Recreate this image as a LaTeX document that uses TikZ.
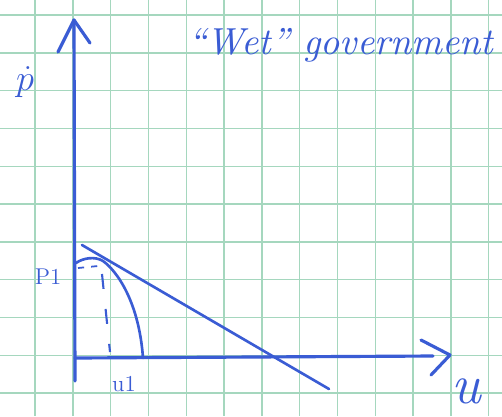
\documentclass[tikz,border=0pt]{standalone}
\usepackage{fontspec}
\usepackage{graphicx}
\definecolor{pen}{RGB}{58,92,212}
\definecolor{gridc}{RGB}{165,215,190}
\begin{document}
\begin{tikzpicture}[x=0.02cm,y=-0.02cm,
  axis/.style={draw=pen,line width=1.8pt,line cap=round,line join=round},
  pencurve/.style={draw=pen,line width=1.5pt,line cap=round,line join=round},
  penlabel/.style={text=pen,inner sep=0pt,font=\itshape},
  gridline/.style={draw=gridc,line width=0.8pt}]
\useasboundingbox (0,0) rectangle (502,416);
\fill[white] (0,0) rectangle (502,416);
% grid paper
\foreach \k in {0,...,12} {\draw[gridline] (35+37.8*\k,0) -- (35+37.8*\k,416);}
\foreach \k in {0,...,10} {\draw[gridline] (0,15+37.8*\k) -- (502,15+37.8*\k);}
% coordinates
\coordinate (ytop) at (74,20);
\coordinate (ybot) at (75,381);
\coordinate (ya) at (58,52);
\coordinate (yb) at (90,43);
\coordinate (xl) at (75,358);
\coordinate (xr) at (433,356);
\coordinate (xtip) at (450,355);
\coordinate (xa) at (421,340);
\coordinate (xb) at (431,375);
\coordinate (ls) at (82,245);
\coordinate (le) at (329,389);
\coordinate (c0) at (76,263);
\coordinate (q) at (103,261);
\coordinate (c1) at (143,358);
\coordinate (hs) at (78,268);
\coordinate (he) at (98,266);
\coordinate (vs) at (102,274);
\coordinate (ve) at (110,352);
% axes
\draw[axis] (ybot) -- (ytop);
\draw[axis] (ya) -- (ytop) -- (yb);
\draw[axis] (xl) -- (xr);
\draw[axis] (xa) -- (xtip) -- (xb);
% budget line
\draw[pencurve] (ls) -- (le);
% curve
\draw[pencurve] (c0) .. controls (83,258) and (95,256) .. (q)
  .. controls (117,271) and (139,302) .. (c1);
% dashed guides
\draw[pen,line width=1pt,dash pattern=on 3.5pt off 4pt] (hs) -- (he);
\draw[pen,line width=1.2pt,dash pattern=on 8.5pt off 11.5pt] (vs) -- (ve);
% labels
\node[penlabel,font=\fontsize{22}{24}\selectfont] (pdot) at (25,82) {$\dot{p}$};
\node[penlabel,font=\fontsize{13}{15}\selectfont] (p1) at (48,277) {P1};
\node[penlabel,font=\fontsize{13}{15}\selectfont] (u1) at (124,384) {u1};
\node[penlabel,font=\itshape\fontsize{32}{34}\selectfont] (u) at (466,391) {u};
\node[penlabel,anchor=west] (title) at (188,45) {\resizebox{6.1cm}{!}{\itshape “Wet” government}};
\end{tikzpicture}
\end{document}
